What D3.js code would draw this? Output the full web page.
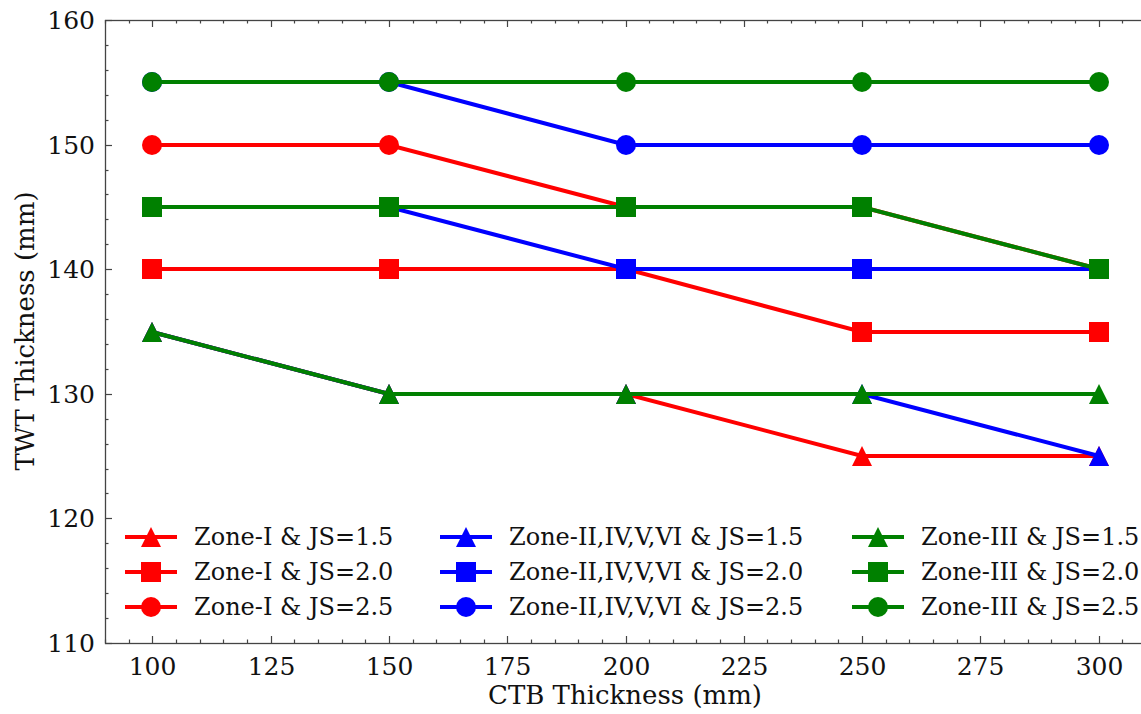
<!DOCTYPE html>
<html>
<head>
<meta charset="utf-8">
<script src="https://cdn.jsdelivr.net/npm/d3@7"></script>
<style>
  html, body { margin: 0; padding: 0; background: #fff; }
  svg { display: block; }
  text { font-family: "DejaVu Serif", serif; fill: #111; }
</style>
</head>
<body>
<svg id="viz"></svg>
<script>
var width = 1141;
var height = 714;

// data
var ctb = [100, 150, 200, 250, 300];
var xTicks = [100, 125, 150, 175, 200, 225, 250, 275, 300];
var yTicks = [110, 120, 130, 140, 150, 160];

var zone1_js15 = [135, 130, 130, 125, 125];
var zone1_js20 = [140, 140, 140, 135, 135];
var zone1_js25 = [150, 150, 145, 145, 140];
var zone2_js15 = [135, 130, 130, 130, 125];
var zone2_js20 = [145, 145, 140, 140, 140];
var zone2_js25 = [155, 155, 150, 150, 150];
var zone3_js15 = [135, 130, 130, 130, 130];
var zone3_js20 = [145, 145, 145, 145, 140];
var zone3_js25 = [155, 155, 155, 155, 155];

var series = [
    {name: "Zone-I & JS=1.5", color: "#ff0000", marker: "tri", values: zone1_js15},
    {name: "Zone-I & JS=2.0", color: "#ff0000", marker: "sq", values: zone1_js20},
    {name: "Zone-I & JS=2.5", color: "#ff0000", marker: "circ", values: zone1_js25},
    {name: "Zone-II,IV,V,VI & JS=1.5", color: "#0000ff", marker: "tri", values: zone2_js15},
    {name: "Zone-II,IV,V,VI & JS=2.0", color: "#0000ff", marker: "sq", values: zone2_js20},
    {name: "Zone-II,IV,V,VI & JS=2.5", color: "#0000ff", marker: "circ", values: zone2_js25},
    {name: "Zone-III & JS=1.5", color: "#008000", marker: "tri", values: zone3_js15},
    {name: "Zone-III & JS=2.0", color: "#008000", marker: "sq", values: zone3_js20},
    {name: "Zone-III & JS=2.5", color: "#008000", marker: "circ", values: zone3_js25}
];

var padLeft = 105, padTop = 20, padBottom = 643;
var x = d3.scaleLinear().domain([90, 310]).range([padLeft, 1146]).interpolate(d3.interpolateRound);
var y = d3.scaleLinear().domain([110, 160]).range([padBottom, padTop]).interpolate(d3.interpolateRound);

var svg = d3.select("#viz").attr("width", width).attr("height", height);

var ms = 20;
function markerPath(kind) {
    var h = ms / 2;
    if (kind === "tri") return "M0," + (-h) + "L" + h + "," + h + "L" + (-h) + "," + h + "Z";
    if (kind === "sq") return "M" + (-h) + "," + (-h) + "h" + ms + "v" + ms + "h" + (-ms) + "Z";
    return d3.symbol().type(d3.symbolCircle).size(Math.PI * h * h)();
}

// frame + ticks
var axisColor = "#444";
var gx = svg.append("g").attr("transform", "translate(0," + padBottom + ")")
    .call(d3.axisBottom(x).tickValues(xTicks).tickSize(0).tickPadding(9).tickFormat(d3.format("d")));
var gy = svg.append("g").attr("transform", "translate(" + padLeft + ",0)")
    .call(d3.axisLeft(y).tickValues(yTicks).tickSize(0).tickPadding(10).tickFormat(d3.format("d")));
[gx, gy].forEach(function(g) {
    g.select(".domain").remove();
    g.selectAll("text").style("font-family", "DejaVu Serif").style("font-size", "25px").attr("fill", "#111");
});
gx.selectAll("text").attr("dy", "0.9em");

var frame = svg.append("g");
frame.append("rect").attr("x", padLeft + 0.5).attr("y", padTop + 0.5)
    .attr("width", x(310) - padLeft).attr("height", padBottom - padTop)
    .attr("fill", "none").attr("stroke", axisColor).attr("stroke-width", 1.3);

var xMinor = d3.range(90, 311, 5), yMinor = d3.range(110, 161, 2);
xMinor.forEach(function(v) {
    var len = v % 25 === 0 ? 7 : 3.5;
    frame.append("line").attr("x1", x(v) + 0.5).attr("x2", x(v) + 0.5).attr("y1", padBottom).attr("y2", padBottom - len)
        .attr("stroke", axisColor).attr("stroke-width", 1.2);
    frame.append("line").attr("x1", x(v) + 0.5).attr("x2", x(v) + 0.5).attr("y1", padTop).attr("y2", padTop + len)
        .attr("stroke", axisColor).attr("stroke-width", 1.2);
});
yMinor.forEach(function(v) {
    var len = v % 10 === 0 ? 7 : 3.5;
    frame.append("line").attr("x1", padLeft).attr("x2", padLeft + len).attr("y1", y(v) + 0.5).attr("y2", y(v) + 0.5)
        .attr("stroke", axisColor).attr("stroke-width", 1.2);
});

// axis labels
svg.append("text").attr("x", 625).attr("y", 704).attr("text-anchor", "middle")
    .style("font-size", "26px").text("CTB Thickness (mm)");
svg.append("text").attr("transform", "translate(34,331) rotate(-90)").attr("text-anchor", "middle")
    .style("font-size", "26px").text("TWT Thickness (mm)");

// series
var line = d3.line().x(function(d, i) { return x(ctb[i]); }).y(function(d) { return y(d); });
var plot = svg.append("g");
series.forEach(function(s) {
    var g = plot.append("g");
    g.append("path").attr("d", line(s.values)).attr("fill", "none")
        .attr("stroke", s.color).attr("stroke-width", 4);
    g.selectAll("path.m").data(s.values).enter().append("path").attr("class", "m")
        .attr("d", markerPath(s.marker))
        .attr("transform", function(d, i) { return "translate(" + x(ctb[i]) + "," + y(d) + ")"; })
        .attr("fill", s.color);
});

// legend: 3 columns, column-major
var colX = [125, 440, 852];
var rowY = [537, 572, 607];
var legend = svg.append("g");
series.forEach(function(s, i) {
    var cx = colX[Math.floor(i / 3)], cy = rowY[i % 3];
    var g = legend.append("g").attr("transform", "translate(" + cx + "," + cy + ")");
    g.append("line").attr("x1", 0).attr("x2", 52).attr("stroke", s.color).attr("stroke-width", 4);
    g.append("path").attr("d", markerPath(s.marker)).attr("transform", "translate(26,0)").attr("fill", s.color);
    g.append("text").attr("x", 69).attr("dy", "0.35em").style("font-size", "24px").text(s.name);
});
</script>
</body>
</html>
